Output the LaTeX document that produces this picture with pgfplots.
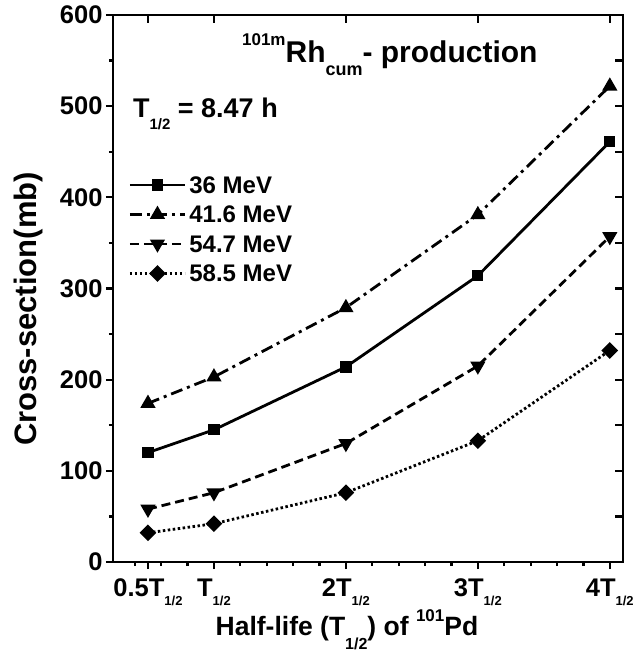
\documentclass[border=0pt]{standalone}
\usepackage{pgfplots}
\pgfplotsset{compat=1.18}
\usepackage{fontspec}
\setmainfont{Liberation Sans}
\newcommand\fs[1]{\fontsize{#1}{#1}\selectfont}
\newcommand\tsub{\raisebox{-9pt}{\fs{13}1/2}}
\begin{document}
\begin{tikzpicture}
\begin{axis}[
  scale only axis, width=510pt, height=547pt,
  xmin=0.235, xmax=4.1, ymin=0, ymax=600,
  clip=false,
  axis line style={line width=2.6pt},
  xtick={0.5,1,2,3,4},
  xticklabels={0.5T\tsub, T\tsub, 2T\tsub, 3T\tsub, 4T\tsub},
  minor xtick={0.4,0.6,0.8,1.2,1.4,1.6,1.8,2.2,2.4,2.6,2.8,3.2,3.4,3.6,3.8},
  ytick={0,100,...,600}, minor ytick={50,150,...,550},
  xtick pos=bottom, ytick pos=left, tick align=outside,
  major tick length=7pt, minor tick length=4pt,
  tick style={line width=2.2pt, black},
  /pgf/number format/assume math mode=true,
  tick label style={font=\fs{25.5}\bfseries},
  xticklabel style={yshift=-6pt},
  legend style={at={(axis cs:0.3515,430)}, anchor=north west, draw=none, fill=none,
    inner sep=0pt, font=\fs{24}\bfseries,
    nodes={inner xsep=3pt, inner ysep=6.5pt, text height=16.5pt, text depth=0pt}},
  legend cell align=left,
  legend image code/.code={\draw[mark repeat=2,mark phase=2] plot coordinates {(0pt,0pt) (27.5pt,0pt) (55pt,0pt)};},
]
\coordinate (sw) at (rel axis cs:0,0);
\addplot[black, line width=2.8pt, mark=square*, mark size=4.2pt, mark options={solid}]
  coordinates {(0.5,120) (1,145) (2,214) (3,314) (4,461)};
\addlegendentry{36 MeV}
\addplot[black, line width=2.8pt, dash pattern=on 12pt off 5pt on 3pt off 5pt, mark=triangle*, mark size=6pt, mark options={solid}]
  coordinates {(0.5,174) (1,203) (2,279) (3,381) (4,522)};
\addlegendentry{41.6 MeV}
\addplot[black, line width=2.8pt, dash pattern=on 9pt off 5pt, mark=triangle*, mark size=6pt, mark options={solid, rotate=180}]
  coordinates {(0.5,58) (1,76) (2,130) (3,215) (4,357)};
\addlegendentry{54.7 MeV}
\addplot[black, line width=2.8pt, dash pattern=on 2.5pt off 2.5pt, mark=square*, mark size=4.5pt, mark options={solid, rotate=45}]
  coordinates {(0.5,32) (1,42) (2,76) (3,133) (4,232)};
\addlegendentry{58.5 MeV}
\node[anchor=base west, inner sep=0pt, font=\fs{30}\bfseries] at (axis cs:1.212,548.4)
  {\raisebox{17pt}{\fs{17}101m}Rh\raisebox{-13pt}{\fs{18}cum}- production};
\node[anchor=base west, inner sep=0pt, font=\fs{27}\bfseries] at (axis cs:0.386,488.1)
  {T\raisebox{-12pt}{\fs{15}1/2} = 8.47 h};
\node[anchor=base, inner sep=0pt, rotate=90, font=\fs{31}\bfseries] at (axis cs:-0.341,277.5)
  {Cross-section(mb)};
\node[anchor=base, inner sep=0pt, font=\fs{26.5}\bfseries] at (axis cs:2.008,-80.1)
  {Half-life (T\raisebox{-14pt}{\fs{16}1/2}) of \raisebox{14pt}{\fs{17}101}Pd};
\end{axis}
\begin{axis}[
  scale only axis, width=510pt, height=547pt,
  xmin=0.235, xmax=4.1, ymin=0, ymax=600,
  axis line style={line width=2.6pt},
  xtick={0.5,1,2,3,4}, ytick={0,50,...,600},
  xticklabels={}, yticklabels={},
  xtick pos=top, ytick pos=right, tick align=inside,
  major tick length=8pt,
  tick style={line width=2.2pt, black},
]
\end{axis}
\pgfresetboundingbox
\path (sw) ++(-113pt,-93pt) rectangle ++(639pt,655pt);
\end{tikzpicture}
\end{document}
